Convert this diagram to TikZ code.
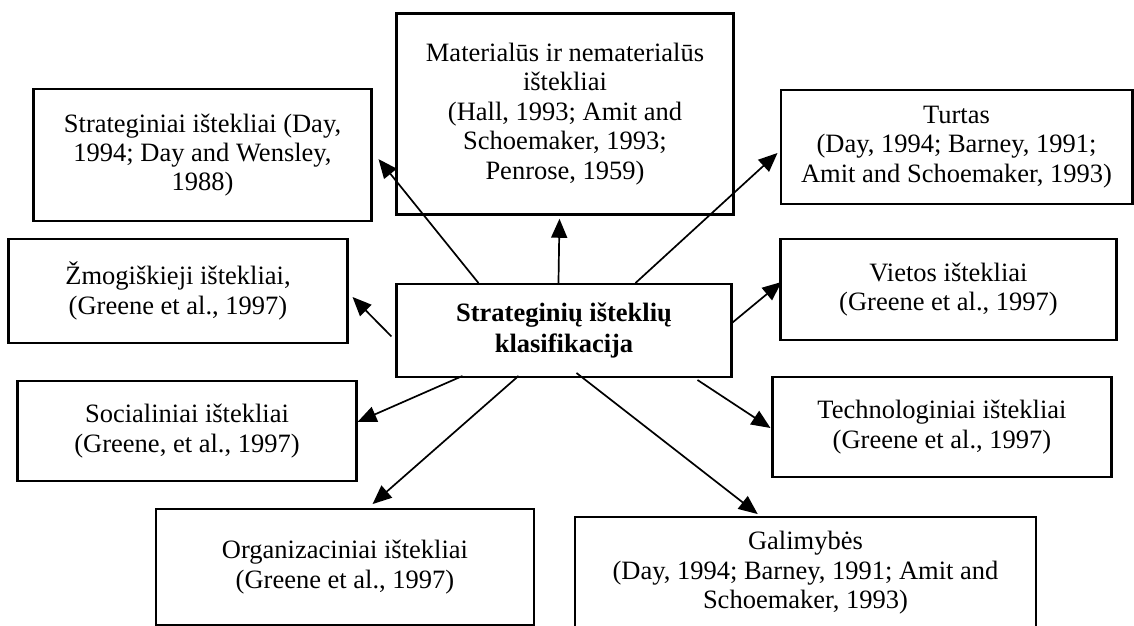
\documentclass[tikz,border=0pt]{standalone}
\usepackage{fontspec}
\setmainfont{Liberation Serif}
\usetikzlibrary{arrows.meta,calc}
\begin{document}
\begin{tikzpicture}[x=1bp,y=-1bp,
  box/.style={draw,line width=2.3bp,inner sep=0pt,align=center,
    font=\fontsize{26.6}{29.5}\selectfont},
  conn/.style={line width=1.7bp,-{Triangle[length=19bp,width=16bp]}}]
\useasboundingbox (0,0) rectangle (1134,626);
\node[box,minimum width=339,minimum height=132] (strat) at (202.5,155)
  {Strateginiai ištekliai (Day,\\1994; Day and Wensley,\\1988)};
\node[box,minimum width=338,minimum height=202] (mat) at (565,114)
  {Materialūs ir nematerialūs\\ištekliai\\(Hall, 1993; Amit and\\Schoemaker, 1993;\\Penrose, 1959)};
\node[box,minimum width=353,minimum height=114] (turt) at (956.5,147)
  {Turtas\\(Day, 1994; Barney, 1991;\\Amit and Schoemaker, 1993)};
\node[box,minimum width=340,minimum height=104] (zmog) at (178,291)
  {Žmogiškieji ištekliai,\\(Greene et al., 1997)};
\node[box,minimum width=336,minimum height=93,
  font=\fontsize{26.6}{32}\selectfont\bfseries] (c) at (564,330.5)
  {Strateginių išteklių\\klasifikacija};
\node[box,minimum width=337,minimum height=101] (viet) at (948.5,289.5)
  {Vietos ištekliai\\(Greene et al., 1997)};
\node[box,minimum width=340,minimum height=100] (soc) at (187,431)
  {Socialiniai ištekliai\\(Greene, et al., 1997)};
\node[box,minimum width=340,minimum height=100] (tech) at (942,427)
  {Technologiniai ištekliai\\(Greene et al., 1997)};
\node[box,minimum width=380,minimum height=116] (org) at (345,567)
  {Organizaciniai ištekliai\\(Greene et al., 1997)};
\node[box,minimum width=463,minimum height=112] (gal) at (805.5,573)
  {Galimybės\\(Day, 1994; Barney, 1991; Amit and\\Schoemaker, 1993)};
\draw[conn] ($(c.north west)+(83,0)$) -- ($(strat.north east)+(6,71)$);
\draw[conn] ($(c.north west)+(163,0)$) -- ($(mat.south west)+(164,3)$);
\draw[conn] ($(c.north west)+(240,0)$) -- ($(turt.west)+(-2,6)$);
\draw[conn] ($(c.west)+(-4,6)$) -- ($(zmog.east)+(4,6)$);
\draw[conn] ($(c.east)+(0,-8)$) -- ($(viet.west)+(2,-7.5)$);
\draw[conn] ($(c.south west)+(67,-2)$) -- ($(soc.east)+(0,-9)$);
\draw[conn] ($(c.south west)+(123,-2)$) -- ($(org.north west)+(218,-4)$);
\draw[conn] ($(c.south west)+(181,-5)$) -- ($(gal.north west)+(184,-2)$);
\draw[conn] ($(c.south west)+(302,2)$) -- ($(tech.west)+(-1,1)$);
\end{tikzpicture}
\end{document}
